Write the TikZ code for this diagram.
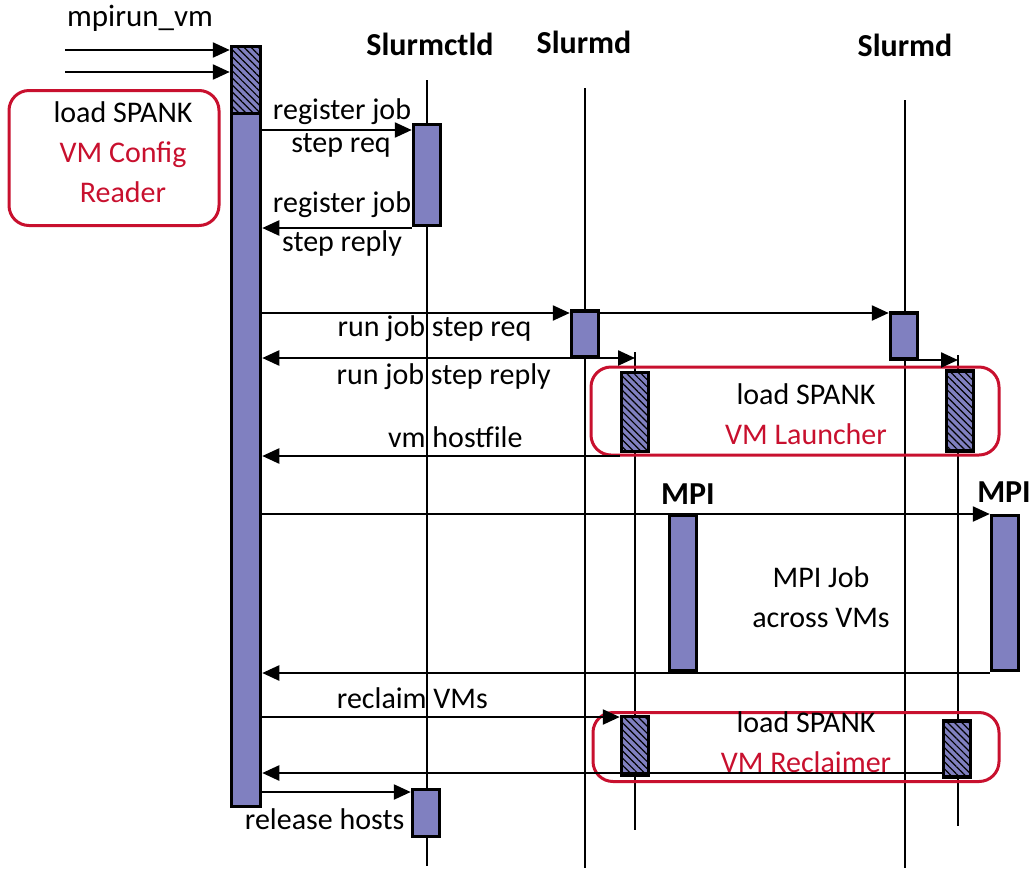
\documentclass[tikz,border=0pt]{standalone}
\usepackage{fontspec}
\setmainfont{Carlito}
\usetikzlibrary{arrows.meta,positioning,patterns.meta}
\definecolor{actfill}{RGB}{128,128,192}
\definecolor{vmred}{RGB}{200,16,46}
\tikzset{
    act/.style={
        draw,
        line width=3.5pt,
        fill=actfill,
        minimum width=27pt,
        inner sep=0pt
    },
    hatch/.style={
        act,
        postaction={pattern={Lines[angle=-45,distance=5pt,line width=1.2pt]}, pattern color=black}
    },
    plugin/.style={
        draw=vmred,
        line width=3pt,
        rounded corners=20pt
    },
    msg/.style={
        -{Triangle[length=17pt,width=15pt]},
        line width=2.4pt
    },
    lifeline/.style={line width=1.8pt},
    lbl/.style={font=\fontsize{30}{40}\selectfont, inner sep=1pt, align=center},
    head/.style={font=\fontsize{32}{36}\selectfont\bfseries}
}

\begin{document}
\begin{tikzpicture}[x=1pt, y=-1pt]
\useasboundingbox (0,0) rectangle (1032,871);

\coordinate (ctltop) at (427,80);
\coordinate (ctlbot) at (427,866);
\coordinate (d1top) at (585,88);
\coordinate (d1bot) at (585,868);
\coordinate (d2top) at (905,100);
\coordinate (d2bot) at (905,868);
\coordinate (vm1top) at (635,352);
\coordinate (vm1bot) at (635,830);
\coordinate (vm2top) at (958,355);
\coordinate (vm2bot) at (958,826);
\coordinate (in1) at (65,50);
\coordinate (in2) at (65,72);

\node[lbl, font=\fontsize{31}{36}\selectfont] (cmd) at (140,18) {mpirun\_vm};
\node[head] (ctlname) at (430,44) {Slurmctld};
\node[head] (d1name) at (584,42) {Slurmd};
\node[head] (d2name) at (905,45) {Slurmd};
\node[head] (mpi1name) at (688,494) {MPI};
\node[head] (mpi2name) at (1004,492) {MPI};

\draw[lifeline] (ctltop) -- (ctlbot);
\draw[lifeline] (d1top) -- (d1bot);
\draw[lifeline] (d2top) -- (d2bot);
\draw[lifeline] (vm1top) -- (vm1bot);
\draw[lifeline] (vm2top) -- (vm2bot);

\node[plugin, minimum width=210pt, minimum height=135pt] (reader) at (114,158) {};
\node[lbl] (readertxt) at (123,152) {load SPANK\\\color{vmred}VM Config\\\color{vmred}Reader};
\node[plugin, minimum width=408pt, minimum height=88pt] (launcher) at (795,411) {};
\node[lbl] (launchertxt) at (806,414) {load SPANK\\\color{vmred}VM Launcher};
\node[plugin, minimum width=406pt, minimum height=69pt] (reclaimer) at (796,747) {};
\node[lbl] (reclaimertxt) at (806,742) {load SPANK\\\color{vmred}VM Reclaimer};
\node[lbl] (mpijob) at (821,597) {MPI Job\\across VMs};

\node[act, minimum width=29pt, minimum height=759pt] (main) at (246,427) {};
\node[hatch, minimum width=29pt, minimum height=67pt] (init) at (246,80) {};
\node[act, minimum height=101pt] (ctl1) at (427,175) {};
\node[act, minimum height=47pt] (ctl2) at (426,813) {};
\node[act, minimum height=46pt] (d1) at (585,334) {};
\node[act, minimum height=46pt] (d2) at (904,336) {};
\node[hatch, minimum height=79pt] (l1) at (635,412) {};
\node[hatch, minimum height=80pt] (l2) at (960,411) {};
\node[act, minimum height=156pt] (mpi1) at (683,593) {};
\node[act, minimum height=155pt] (mpi2) at (1005,593) {};
\node[hatch, minimum height=59pt] (r1) at (635,746) {};
\node[hatch, minimum height=56pt] (r2) at (957,749) {};

\draw[msg] (in1) -- (init.west |- in1);
\draw[msg] (in2) -- (init.west |- in2);
\draw[msg] (main.east |- 0,130) -- node[lbl, above, yshift=3pt, xshift=5pt] {register job} node[lbl, below, yshift=-1pt, xshift=4pt] {step req} (ctl1.west |- 0,130);
\draw[msg] (ctl1.west |- 0,228) -- node[lbl, above, yshift=8pt, xshift=5pt] {register job} node[lbl, below, xshift=5pt] {step reply} (main.east |- 0,228);
\draw[msg] (main.east |- 0,313) -- node[lbl, below, pos=0.56] {run job step req} (d1.west |- 0,313);
\draw[msg] (d1.west |- 0,358) -- node[lbl, below, pos=0.41, yshift=-3pt] {run job step reply} (main.east |- 0,358);
\draw[msg] (d1.east |- 0,313) -- (d2.west |- 0,313);
\draw[msg] (d1.east |- 0,358) -- (vm1top |- 0,358);
\draw[msg] (d2.east |- 0,360) -- (vm2top |- 0,360);
\draw[msg] (l1.west |- 0,456) -- node[lbl, above, yshift=6pt, pos=0.46] {vm hostfile} (main.east |- 0,456);
\draw[msg] (main.east |- 0,514) -- (mpi2.west |- 0,514);
\draw[msg] (mpi2.west |- 0,673) -- (main.east |- 0,673);
\draw[msg] (main.east |- 0,717) -- node[lbl, above, yshift=6pt, pos=0.42] {reclaim VMs} (r1.west |- 0,717);
\draw[msg] (r2.west |- 0,773) -- (main.east |- 0,773);
\draw[msg] (main.east |- 0,792) -- node[lbl, below, yshift=-14pt, pos=0.42] {release hosts} (ctl2.west |- 0,792);

\end{tikzpicture}
\end{document}
